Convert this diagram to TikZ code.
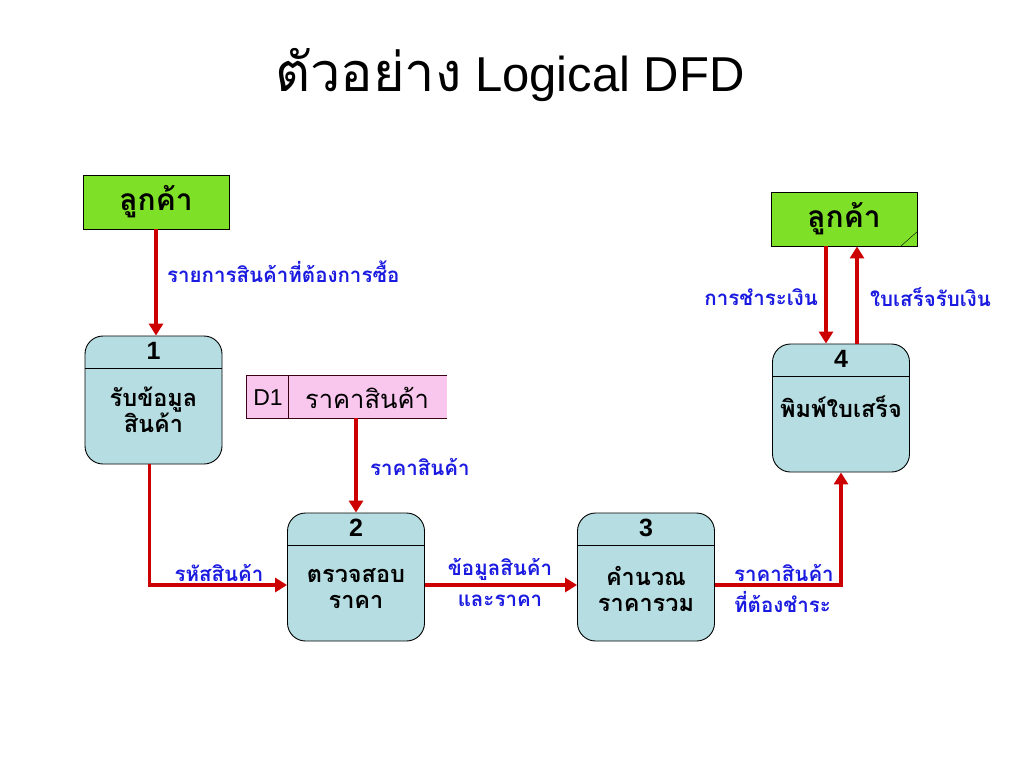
\documentclass[tikz,border=0pt]{standalone}
\usepackage{fontspec}
\setmainfont{Liberation Sans}
\newfontfamily\thaifont[Script=Thai]{Loma}
\usetikzlibrary{positioning,arrows.meta}

\definecolor{entgreen}{HTML}{7FE127}
\definecolor{procblue}{HTML}{B6DEE2}
\definecolor{storepink}{HTML}{F9C6EE}
\definecolor{flowred}{HTML}{CC0000}
\definecolor{lblblue}{HTML}{1A1AE0}

\begin{document}
\begin{tikzpicture}[x=1pt,y=-1pt,
  entity/.style={rectangle,draw,line width=0.9pt,fill=entgreen,minimum width=146pt,minimum height=54pt,
    font=\thaifont\bfseries\fontsize{30}{32}\selectfont},
  process/.style={rectangle,draw,line width=0.9pt,rounded corners=18pt,fill=procblue,minimum width=137pt,minimum height=128pt},
  pnum/.style={font=\bfseries\fontsize{25}{26}\selectfont},
  ptext/.style={align=center,font=\thaifont\bfseries\fontsize{23.5}{26}\selectfont},
  flow/.style={draw=flowred,line width=3.5pt,-{Triangle[length=12pt,width=14pt]}},
  lbl/.style={text=lblblue,inner sep=0pt,font=\thaifont\bfseries\fontsize{20.5}{31}\selectfont}]
  \useasboundingbox (0,0) rectangle (1024,768);

  % title
  \node[font=\fontsize{49}{54}\selectfont] (title) at (510,75) {{\thaifont\fontsize{54}{58}\selectfont ตัวอย่าง} Logical DFD};

  % external entities
  \node[entity] (cust1) at (156,202) {ลูกค้า};
  \node[entity] (cust2) at (844,219) {ลูกค้า};
  \draw ([xshift=-17pt]cust2.south east) -- ([yshift=15pt]cust2.south east);

  % processes
  \node[process] (p1) at (153.5,400) {};
  \node[process] (p2) at (356,577) {};
  \node[process] (p3) at (646,577) {};
  \node[process] (p4) at (841,408) {};
  \foreach \p/\n in {p1/1,p2/2,p3/3,p4/4} {
    \node[pnum] at ([yshift=-15pt]\p.north) {\n};
    \draw[line width=0.9pt] ([yshift=-33pt]\p.north west) -- ([yshift=-33pt]\p.north east);
  }
  \node[ptext] at ([yshift=-74pt]p1.north) {รับข้อมูล\\สินค้า};
  \node[ptext] at ([yshift=-76pt]p2.north) {ตรวจสอบ\\ราคา};
  \node[ptext] at ([yshift=-76pt]p3.north) {คำนวณ\\ราคารวม};
  \node[ptext] at ([yshift=-63pt]p4.north) {พิมพ์ใบเสร็จ};

  % data store
  \node[rectangle,fill=storepink,minimum width=201pt,minimum height=43pt] (d1) at (346.5,396.5) {};
  \draw[draw=black!70!purple] (d1.north east) -- (d1.north west) -- (d1.south west) -- (d1.south east);
  \draw[draw=black!70!purple] ([xshift=42pt]d1.north west) -- ([xshift=42pt]d1.south west);
  \node[font=\fontsize{23}{24}\selectfont] at (268,398) {D1};
  \node[font=\thaifont\fontsize{25.5}{28}\selectfont] at (367,398) {ราคาสินค้า};

  % data flows
  \draw[flow] (cust1.south) -- (cust1.south |- p1.north);
  \draw[flow] (d1.south -| p2.north) -- (p2.north);
  \draw[flow] ([xshift=-4pt]p1.south) |- ([yshift=-8pt]p2.west);
  \draw[flow] ([yshift=-8pt]p2.east) -- ([yshift=-8pt]p3.west);
  \draw[flow] ([yshift=-8pt]p3.east) -| (p4.south);
  \draw[flow] ([xshift=-15pt]p4.north |- cust2.south) -- ([xshift=-15pt]p4.north);
  \draw[flow] ([xshift=16pt]p4.north) -- ([xshift=16pt]p4.north |- cust2.south);

  % flow labels
  \node[lbl,anchor=west] (f1) at (167,272) {รายการสินค้าที่ต้องการซื้อ};
  \node[lbl,anchor=west] (f2) at (370,467) {ราคาสินค้า};
  \node[lbl] (f3) at (219,573) {รหัสสินค้า};
  \node[lbl,align=center] (f4) at (500,582) {ข้อมูลสินค้า\\และราคา};
  \node[lbl,align=left,anchor=west] (f5) at (734,588) {ราคาสินค้า\\ที่ต้องชำระ};
  \node[lbl,anchor=east] (f6) at (818,297) {การชำระเงิน};
  \node[lbl,anchor=west] (f7) at (870,297) {ใบเสร็จรับเงิน};
\end{tikzpicture}
\end{document}
